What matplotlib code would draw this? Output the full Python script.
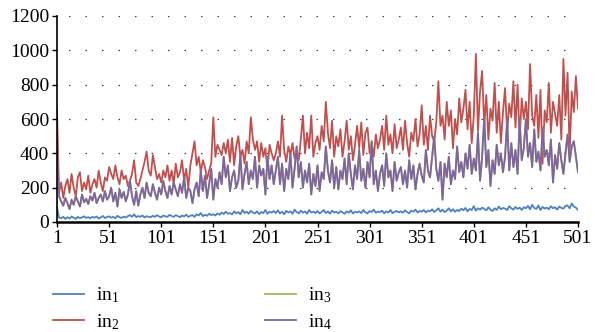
import matplotlib
matplotlib.use("Agg")
import matplotlib.pyplot as plt
import numpy as np

plt.rcParams['font.family'] = ['Liberation Serif', 'DejaVu Serif']
plt.rcParams['mathtext.fontset'] = 'custom'
plt.rcParams['mathtext.rm'] = 'Liberation Serif'
plt.rcParams['mathtext.it'] = 'Liberation Serif:italic'

x_start, x_stop, x_step = 1, 501, 2
xticks = [1, 51, 101, 151, 201, 251, 301, 351, 401, 451, 501]
yticks = [0, 200, 400, 600, 800, 1000, 1200]
labels = [r'$\mathrm{in}_1$', r'$\mathrm{in}_2$', r'$\mathrm{in}_3$', r'$\mathrm{in}_4$']

in2 = [660, 170,
       230, 140, 210, 250, 170, 280, 200, 150, 260, 290, 180, 230, 190,
       270, 170, 220, 250, 200, 300, 230, 180, 260, 240,
       320, 280, 250, 330, 260, 220, 300, 250, 270, 210,
       240, 280, 360, 230, 210, 250, 300, 350, 410, 300,
       270, 390, 320, 250, 280, 230, 300, 260, 330, 240,
       300, 220, 340, 260, 290, 360, 240, 310, 200, 330,
       400, 470, 330, 380, 290, 360, 320, 250, 300, 340,
       610, 380, 450, 420, 390, 460, 400, 480, 350, 490,
       330, 440, 500, 380, 420, 340, 470, 400, 610, 480,
       420, 470, 350, 460, 380, 430, 300, 450, 400, 360,
       400, 470, 380, 620, 420, 350, 440, 390, 460, 370,
       420, 360, 480, 620, 400, 520, 430, 620, 380, 460,
       500, 420, 560, 470, 700, 520, 430, 590, 380, 500,
       440, 540, 380, 470, 590, 420, 500, 360, 450, 560,
       430, 580, 390, 520, 550, 400, 460, 380, 510, 430,
       480, 560, 420, 620, 450, 510, 400, 570, 430, 480,
       550, 420, 590, 460, 380, 520, 470, 600, 440, 510,
       680, 450, 560, 420, 620, 500, 470, 580, 820, 560,
       620, 480, 700, 560, 650, 430, 600, 510, 720, 580,
       660, 770, 540, 700, 460, 620, 980, 530, 760, 880,
       560, 740, 480, 660, 590, 810, 520, 700, 460, 640,
       780, 520, 690, 610, 820, 550, 800, 480, 720, 600,
       700, 540, 920, 620, 560, 740, 490, 770, 340, 650,
       580, 810, 520, 700, 630, 560, 740, 480, 950, 620,
       870, 390, 760, 640, 850, 660]

in4 = [430, 150,
       120, 95, 140, 110, 75, 130, 100, 150, 120, 90, 160, 115, 135,
       105, 150, 125, 170, 110, 140, 160, 120, 180, 130,
       150, 200, 120, 170, 90, 190, 140, 175, 120, 160,
       240, 150, 100, 180, 95, 160, 200, 140, 230, 170,
       150, 220, 170, 130, 200, 160, 240, 180, 140, 210,
       160, 230, 190, 150, 220, 170, 260, 140, 200, 180,
       110, 190, 230, 150, 300, 180, 270, 140, 220, 310,
       130, 250, 200, 290, 220, 380, 260, 330, 180, 260,
       300, 200, 240, 390, 190, 280, 350, 220, 300, 250,
       380, 200, 330, 270, 310, 160, 380, 250, 330, 220,
       300, 380, 220, 340, 180, 310, 250, 400, 200, 310,
       440, 260, 350, 200, 300, 230, 340, 160, 280, 210,
       330, 180, 290, 250, 440, 300, 230, 360, 200, 320,
       190, 300, 250, 370, 220, 400, 280, 190, 330, 250,
       420, 240, 310, 200, 350, 260, 470, 220, 300, 180,
       280, 330, 210, 400, 260, 300, 180, 350, 240, 290,
       320, 220, 300, 200, 360, 250, 330, 190, 280, 340,
       270, 230, 420, 300, 260, 380, 500, 310, 240, 350,
       130, 340, 260, 380, 220, 300, 250, 440, 290, 350,
       260, 400, 310, 450, 280, 370, 300, 520, 240, 380,
       610, 320, 420, 210, 360, 280, 450, 330, 400, 290,
       380, 590, 300, 460, 320, 420, 280, 590, 360, 430,
       600, 380, 460, 320, 540, 350, 410, 300, 550, 380,
       420, 330, 480, 230, 390, 310, 460, 360, 280, 400,
       510, 350, 440, 470, 380, 290]

in3 = list(in4)

in1 = [85, 25,
       22, 30, 18, 28, 20, 32, 25, 18, 30, 22, 27, 33, 24,
       28, 22, 30, 25, 32, 20, 27, 35, 23, 29,
       33, 25, 30, 22, 36, 28, 24, 31, 26, 34,
       40, 30, 45, 28, 35, 30, 38, 26, 34, 30,
       28, 36, 30, 40, 32, 27, 38, 33, 30, 42,
       35, 30, 40, 34, 28, 38, 32, 43, 30, 36,
       40, 30, 45, 38, 52, 34, 42, 36, 48, 40,
       45, 38, 50, 42, 55, 46, 60, 48, 52, 44,
       62, 50, 58, 45, 70, 52, 60, 48, 65, 55,
       50, 62, 46, 58, 52, 70, 48, 60, 55, 64,
       52, 68, 50, 60, 45, 65, 55, 62, 48, 72,
       58, 50, 66, 54, 62, 48, 70, 56, 60, 52,
       64, 50, 58, 70, 52, 62, 48, 66, 55, 60,
       50, 64, 56, 48, 62, 54, 68, 50, 60, 55,
       62, 52, 70, 56, 50, 64, 58, 72, 54, 60,
       58, 66, 50, 62, 55, 70, 52, 60, 64, 56,
       62, 54, 68, 58, 50, 66, 60, 72, 56, 64,
       60, 70, 56, 66, 62, 74, 58, 68, 80, 60,
       72, 58, 66, 80, 62, 74, 60, 70, 64, 78,
       68, 82, 62, 76, 70, 92, 66, 80, 72, 84,
       76, 68, 86, 72, 64, 80, 70, 90, 74, 82,
       78, 70, 92, 80, 72, 88, 76, 84, 70, 86,
       80, 94, 74, 100, 82, 76, 96, 70, 88, 78,
       84, 74, 92, 80, 86, 72, 90, 82, 78, 94,
       96, 80, 108, 90, 84, 70]

x = np.arange(x_start, x_stop + 1, x_step)

fig = plt.figure(figsize=(5.95, 3.32), dpi=100)
ax = fig.add_axes([57/595, 1 - 222/332, (578 - 57)/595, (222 - 16)/332])

colors = ['#4F81BD', '#C0504D', '#9BBB59', '#8064A2']
series = [in1, in2, in3, in4]
for s, c, lab in zip(series, colors, labels):
    ax.plot(x, s, color=c, lw=1.3, label=lab)

ax.set_xlim(1, 501)
ax.set_ylim(0, 1200)
ax.set_xticks(xticks)
ax.set_yticks(yticks)
ax.tick_params(axis='both', labelsize=14, length=3.5, width=1, direction='out', pad=2)
for g in yticks[1:]:
    ax.axhline(g, color='#444444', lw=0.9, ls=(4, (1.2, 12)), zorder=0)
for side in ['top', 'right']:
    ax.spines[side].set_visible(False)
ax.spines['left'].set_linewidth(1.2)
ax.spines['bottom'].set_linewidth(1.8)

fig.legend(loc='upper left', bbox_to_anchor=(45/595, 1 - 278/332), ncol=2,
           frameon=False, fontsize=14, handlelength=1.6, handletextpad=0.6,
           columnspacing=7.5, labelspacing=0.35, borderaxespad=0)

fig.savefig('out.png', dpi=100)
